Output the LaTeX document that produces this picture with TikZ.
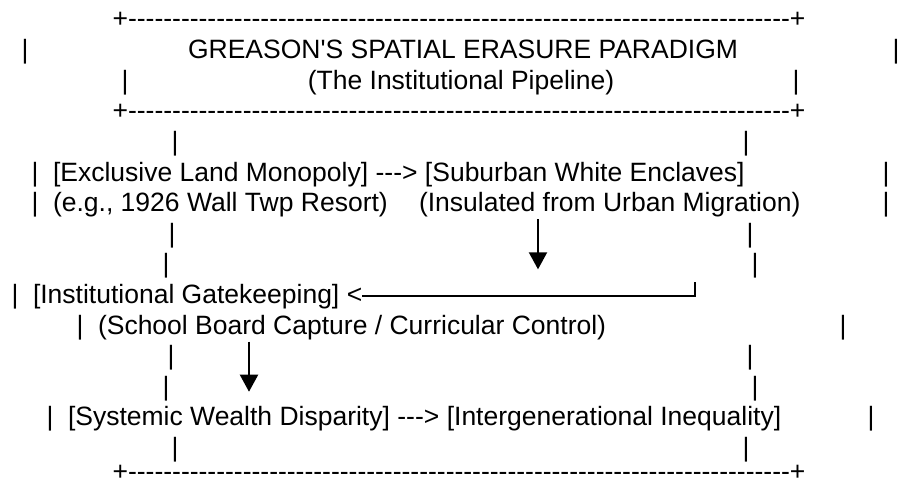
\documentclass[tikz,border=0pt]{standalone}
\usepackage{fontspec}
\newfontfamily\asciifont{Liberation Sans}
\usetikzlibrary{arrows.meta,positioning}

\tikzset{
  ascii/.style={inner sep=0pt, outer sep=0pt, anchor=base west,
    font=\asciifont\fontsize{26.5}{30}\selectfont},
  centred/.style={ascii, anchor=base},
  pipe/.style={line width=2pt},
  drop/.style={pipe, -{Triangle[width=18pt,length=17pt,sep=5pt]}}
}

\begin{document}
\begin{tikzpicture}[x=1pt, y=-30.6pt]
  \useasboundingbox (0,-0.915) rectangle (902,15);

  % Title frame
  \node[centred] (topedge) at (459,0) {+---------------------------------------------------------------------------+};
  \node[centred] (title) at (463,1) {GREASON'S SPATIAL ERASURE PARADIGM};
  \node[centred] (subtitle) at (461,2) {(The Institutional Pipeline)};
  \node[centred] (midedge) at (459,3) {+---------------------------------------------------------------------------+};

  % First stage
  \node[ascii] (land) at (53,5) {[Exclusive Land Monopoly]};
  \node[ascii, base right=7.4pt of land] (arrowa) {--->};
  \node[ascii, base right=7.4pt of arrowa] (enclaves) {[Suburban White Enclaves]};
  \node[ascii] (landnote) at (53,6) {(e.g., 1926 Wall Twp Resort)};
  \node[ascii] (enclavesnote) at (419,6) {(Insulated from Urban Migration)};

  % Second stage
  \node[ascii] (gate) at (33,9) {[Institutional Gatekeeping]};
  \node[ascii, base right=7.4pt of gate] (back) {<};
  \node[ascii] (gatenote) at (98,10) {(School Board Capture / Curricular Control)};

  % Third stage
  \node[ascii] (wealth) at (68,13) {[Systemic Wealth Disparity]};
  \node[ascii, base right=7.4pt of wealth] (arrowb) {--->};
  \node[ascii, base right=7.4pt of arrowb] (inequality) {[Intergenerational Inequality]};
  \node[centred] (botedge) at (459,14.78) {+---------------------------------------------------------------------------+};

  % Side strokes
  \foreach \x/\r [count=\i] in {25/1, 896/1, 125/2, 796/2, 175/4, 746/4,
      35/5, 886/5, 35/6, 886/6, 172/7, 750/7, 166/8, 755/8, 15/9,
      80/10, 843/10, 171/11, 750/11, 166/12, 755/12, 50/13, 871/13,
      175/14, 746/14}
    \node[centred] (stroke\i) at (\x,\r) {|};

  % Drops and return line
  \coordinate (tipa) at (538,8.05);
  \coordinate (tipb) at (249,12.05);
  \coordinate (hook) at (695,8.3);
  \draw[drop] ([yshift=-2pt]enclavesnote.south -| tipa) -- (tipa);
  \draw[drop] ([yshift=-2pt]gatenote.south -| tipb) -- (tipb);
  \draw[pipe] (back.east) -- (back.east -| hook) -- (hook);
\end{tikzpicture}
\end{document}
